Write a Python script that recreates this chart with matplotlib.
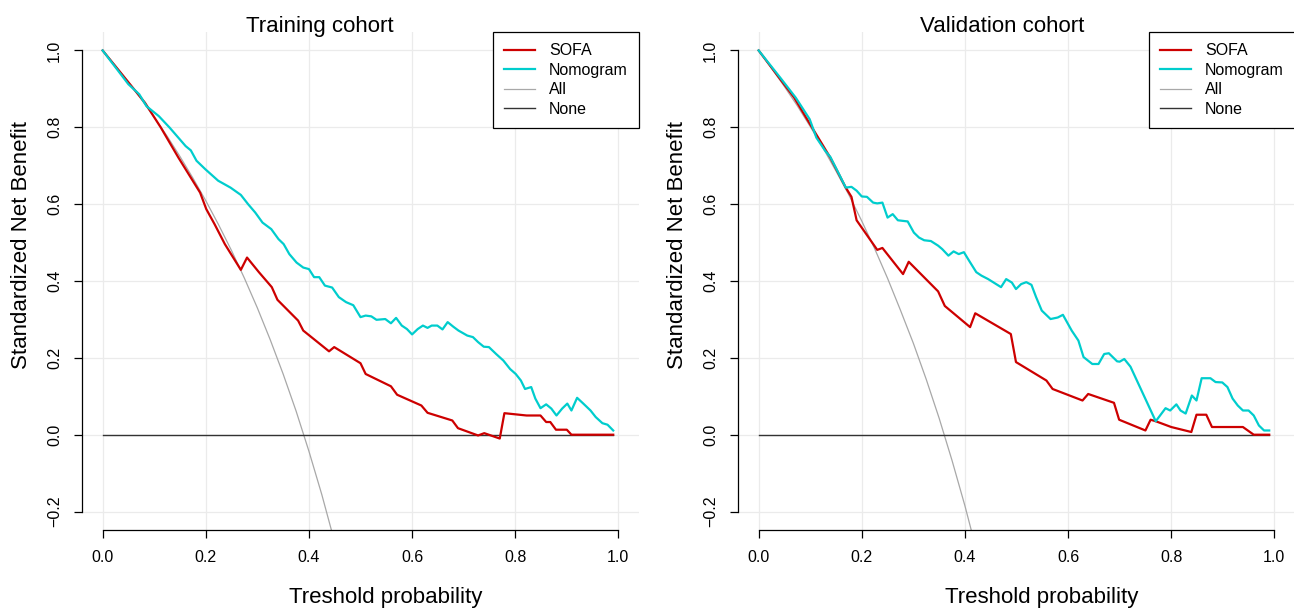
import matplotlib
matplotlib.use("Agg")
import matplotlib.pyplot as plt

plt.rcParams['font.family'] = ['Liberation Sans', 'DejaVu Sans']

# threshold grid used for the "treat all" reference curves
all_thr = [0.0, 0.025, 0.05, 0.075, 0.1, 0.125, 0.15, 0.175, 0.2, 0.225,
           0.25, 0.275, 0.3, 0.325, 0.35, 0.375, 0.4, 0.425, 0.45]
none_x = [0.0, 0.99]
none_y = [0.0, 0.0]

# ---- Training cohort
train_all = [1.0, 0.960, 0.918, 0.873, 0.826, 0.777, 0.724, 0.668, 0.609, 0.546,
             0.479, 0.407, 0.330, 0.247, 0.158, 0.062, -0.043, -0.156, -0.280]

train_sofa_x = [0.0, 0.082, 0.113, 0.147, 0.189, 0.201, 0.217, 0.237, 0.268, 0.280,
                0.303, 0.328, 0.339, 0.379, 0.389, 0.439, 0.449, 0.500, 0.510, 0.559,
                0.571, 0.618, 0.630, 0.678, 0.689, 0.728, 0.740, 0.770, 0.779, 0.822,
                0.849, 0.860, 0.868, 0.879, 0.900, 0.909, 0.990]
train_sofa_y = [1.0, 0.864, 0.799, 0.721, 0.630, 0.587, 0.548, 0.496, 0.429, 0.461,
                0.423, 0.384, 0.351, 0.297, 0.271, 0.217, 0.228, 0.186, 0.158, 0.126,
                0.104, 0.076, 0.057, 0.037, 0.017, -0.002, 0.004, -0.010, 0.056, 0.050,
                0.050, 0.033, 0.033, 0.013, 0.013, 0.0, 0.0]

train_nomo_x = [0.0, 0.050, 0.071, 0.085, 0.109, 0.130, 0.161, 0.171, 0.182, 0.199,
                0.224, 0.248, 0.268, 0.282, 0.296, 0.310, 0.327, 0.341, 0.351, 0.362,
                0.376, 0.389, 0.400, 0.410, 0.420, 0.431, 0.445, 0.458, 0.472, 0.486,
                0.500, 0.510, 0.521, 0.531, 0.548, 0.559, 0.569, 0.580, 0.590, 0.600,
                0.611, 0.621, 0.630, 0.638, 0.649, 0.659, 0.669, 0.680, 0.690, 0.707,
                0.718, 0.728, 0.739, 0.749, 0.763, 0.777, 0.790, 0.801, 0.811, 0.819,
                0.831, 0.839, 0.849, 0.860, 0.870, 0.880, 0.891, 0.901, 0.909, 0.920,
                0.932, 0.946, 0.956, 0.969, 0.979, 0.990]
train_nomo_y = [1.0, 0.912, 0.886, 0.855, 0.829, 0.799, 0.751, 0.740, 0.713, 0.691,
                0.661, 0.643, 0.624, 0.600, 0.578, 0.552, 0.535, 0.509, 0.496, 0.470,
                0.448, 0.435, 0.431, 0.410, 0.410, 0.388, 0.383, 0.358, 0.345, 0.337,
                0.306, 0.310, 0.308, 0.299, 0.301, 0.290, 0.304, 0.284, 0.275, 0.261,
                0.275, 0.284, 0.278, 0.284, 0.284, 0.274, 0.293, 0.281, 0.271, 0.258,
                0.254, 0.241, 0.229, 0.228, 0.210, 0.193, 0.171, 0.158, 0.141, 0.119,
                0.124, 0.094, 0.069, 0.079, 0.068, 0.050, 0.068, 0.081, 0.063, 0.096,
                0.081, 0.063, 0.046, 0.030, 0.026, 0.011]

# ---- Validation cohort
valid_all = [1.0, 0.954, 0.906, 0.856, 0.802, 0.746, 0.686, 0.624, 0.556, 0.484,
             0.407, 0.324, 0.238, 0.144, 0.043, -0.067, -0.185, -0.314, -0.455]

valid_sofa_x = [0.0, 0.042, 0.069, 0.102, 0.139, 0.169, 0.180, 0.190, 0.230, 0.240,
                0.280, 0.291, 0.348, 0.361, 0.410, 0.420, 0.489, 0.499, 0.558, 0.570,
                0.628, 0.639, 0.689, 0.699, 0.750, 0.760, 0.770, 0.800, 0.839, 0.849,
                0.868, 0.879, 0.939, 0.960, 0.990]
valid_sofa_y = [1.0, 0.925, 0.877, 0.803, 0.721, 0.643, 0.619, 0.558, 0.481, 0.486,
                0.418, 0.450, 0.373, 0.335, 0.280, 0.316, 0.262, 0.189, 0.141, 0.119,
                0.089, 0.106, 0.083, 0.039, 0.011, 0.039, 0.035, 0.020, 0.007, 0.052,
                0.052, 0.020, 0.020, 0.0, 0.0]

valid_nomo_x = [0.0, 0.042, 0.072, 0.099, 0.112, 0.129, 0.139, 0.156, 0.169, 0.180,
                0.190, 0.200, 0.210, 0.222, 0.230, 0.240, 0.250, 0.260, 0.270, 0.289,
                0.301, 0.311, 0.321, 0.334, 0.348, 0.356, 0.368, 0.378, 0.388, 0.398,
                0.408, 0.422, 0.432, 0.445, 0.470, 0.480, 0.491, 0.499, 0.509, 0.519,
                0.529, 0.538, 0.549, 0.566, 0.580, 0.590, 0.607, 0.620, 0.630, 0.647,
                0.659, 0.670, 0.679, 0.695, 0.700, 0.709, 0.721, 0.770, 0.789, 0.798,
                0.810, 0.818, 0.828, 0.840, 0.849, 0.859, 0.876, 0.886, 0.899, 0.909,
                0.919, 0.929, 0.939, 0.950, 0.960, 0.970, 0.980, 0.990]
valid_nomo_y = [1.0, 0.929, 0.877, 0.821, 0.773, 0.739, 0.723, 0.678, 0.643, 0.645,
                0.635, 0.620, 0.619, 0.604, 0.602, 0.604, 0.565, 0.574, 0.558, 0.555,
                0.526, 0.513, 0.506, 0.504, 0.492, 0.483, 0.466, 0.477, 0.470, 0.475,
                0.453, 0.423, 0.414, 0.405, 0.384, 0.405, 0.396, 0.379, 0.392, 0.397,
                0.390, 0.358, 0.323, 0.301, 0.305, 0.312, 0.271, 0.245, 0.202, 0.184,
                0.184, 0.210, 0.212, 0.191, 0.190, 0.197, 0.177, 0.035, 0.069, 0.063,
                0.079, 0.063, 0.055, 0.102, 0.089, 0.147, 0.147, 0.137, 0.136, 0.124,
                0.094, 0.076, 0.063, 0.063, 0.050, 0.024, 0.011, 0.011]

x_ticks = [0.0, 0.2, 0.4, 0.6, 0.8, 1.0]
y_ticks = [-0.2, 0.0, 0.2, 0.4, 0.6, 0.8, 1.0]


def draw_panel(ax, title, title_x, sofa_x, sofa_y, nomo_x, nomo_y, all_y):
    ax.set_xlim(-0.04, 1.04)
    ax.set_ylim(-0.248, 1.048)
    ax.set_xticks(x_ticks)
    ax.set_yticks(y_ticks)
    ax.set_xticklabels(['%.1f' % v for v in x_ticks])
    ax.set_yticklabels(['%.1f' % v if v >= 0 else '\u2212%.1f' % -v for v in y_ticks],
                       rotation=90, va='center')
    ax.grid(True, color='#ebebeb', lw=0.9)
    ax.set_axisbelow(True)

    l_all, = ax.plot(all_thr, all_y, color='#a8a8a8', lw=0.9, zorder=2)
    l_none, = ax.plot(none_x, none_y, color='#333333', lw=1.0, zorder=2)
    l_sofa, = ax.plot(sofa_x, sofa_y, color='#cd0000', lw=1.6, zorder=3)
    l_nomo, = ax.plot(nomo_x, nomo_y, color='#00cdcd', lw=1.6, zorder=4)

    ax.legend([l_sofa, l_nomo, l_all, l_none], ['SOFA', 'Nomogram', 'All', 'None'],
              loc='upper right', bbox_to_anchor=(1.0, 1.0), borderaxespad=0,
              fontsize=11.5, fancybox=False, edgecolor='black', framealpha=1,
              handlelength=1.9, handletextpad=0.9, borderpad=0.7, labelspacing=0.29)
    ax.get_legend().get_frame().set_linewidth(0.9)

    for s in ['top', 'right']:
        ax.spines[s].set_visible(False)
    ax.spines['left'].set_bounds(-0.2, 1.0)
    ax.spines['bottom'].set_bounds(0.0, 1.0)
    ax.spines['left'].set_linewidth(0.9)
    ax.spines['bottom'].set_linewidth(0.9)
    ax.tick_params(direction='out', length=5.8, width=0.9, labelsize=11.5, pad=8.5)

    ax.set_xlabel('Treshold probability', fontsize=16, va='center')
    ax.xaxis.set_label_coords(0.546, -0.135)
    ax.set_ylabel('Standardized Net Benefit', fontsize=16, va='center')
    ax.yaxis.set_label_coords(-0.108, 0.572)
    ax.text(title_x, 1.0, title, transform=ax.transAxes, ha='center',
            va='baseline', fontsize=16)


fig = plt.figure(figsize=(12.94, 6.08), dpi=100)
ax1 = fig.add_axes([82 / 1294, 78 / 608, 557 / 1294, 498 / 608])
ax2 = fig.add_axes([738 / 1294, 78 / 608, 557 / 1294, 498 / 608])

draw_panel(ax1, 'Training cohort', 0.4265, train_sofa_x, train_sofa_y,
           train_nomo_x, train_nomo_y, train_all)
draw_panel(ax2, 'Validation cohort', 0.475, valid_sofa_x, valid_sofa_y,
           valid_nomo_x, valid_nomo_y, valid_all)

fig.savefig('out.png', dpi=100)
